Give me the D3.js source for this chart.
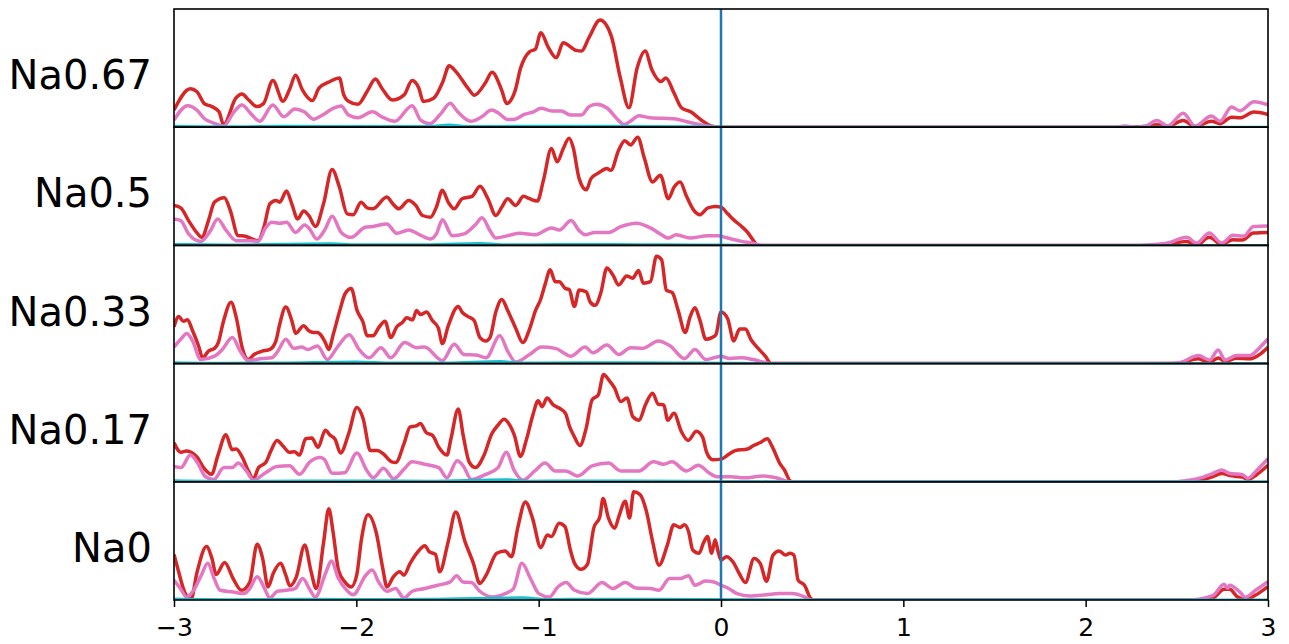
<!DOCTYPE html>
<html>
<head>
<meta charset="utf-8">
<script src="https://cdn.jsdelivr.net/npm/d3@7"></script>
<style>
html,body{margin:0;padding:0;background:#fff;}
svg{display:block;font-family:"DejaVu Sans",sans-serif;}
</style>
</head>
<body>
<svg id="chart" width="1289" height="644"></svg>
<script>
// ---------------- DATA ----------------
const panelLabels = ["Na0.67", "Na0.5", "Na0.33", "Na0.17", "Na0"];
const xTicks = [-3, -2, -1, 0, 1, 2, 3];
const xDomain = [-3, 3];
const yDomain = [0, 100];
const fermiLevel = 0;

// Energy (eV) vs DOS (arb.) — red series
const na067Red = [[-3.00,14.5],[-2.91,32.5],[-2.874,30],[-2.834,20],[-2.793,17.5],[-2.753,13],[-2.728,2],[-2.661,24.5],[-2.627,28],[-2.590,23],[-2.546,17.5],[-2.509,20],[-2.458,39.6],[-2.402,22],[-2.367,31.6],[-2.333,43.9],[-2.296,31.6],[-2.241,22.5],[-2.205,33],[-2.144,38.7],[-2.093,41.6],[-2.069,27.4],[-2.043,22],[-1.992,19.4],[-1.941,30.2],[-1.895,40.7],[-1.860,33],[-1.803,23],[-1.738,27.4],[-1.694,39.6],[-1.657,33],[-1.633,21.7],[-1.576,24.5],[-1.525,38.7],[-1.491,52],[-1.454,47],[-1.383,32],[-1.353,27],[-1.292,37.6],[-1.256,46.4],[-1.201,30.5],[-1.176,20],[-1.130,30.5],[-1.099,50],[-1.049,64],[-1.018,66],[-0.988,80],[-0.947,67.5],[-0.903,58.7],[-0.866,71.5],[-0.795,65],[-0.765,64.4],[-0.724,75.8],[-0.663,90.6],[-0.602,77.2],[-0.552,41.6],[-0.505,16.5],[-0.460,50],[-0.416,64.4],[-0.379,48.7],[-0.329,38.7],[-0.302,41.6],[-0.258,29],[-0.217,16.5],[-0.166,13],[-0.095,4.6],[-0.055,1.1],[0,0],[2.2,0],[2.33,0.5],[2.39,2],[2.45,0.5],[2.535,5.7],[2.6,0.5],[2.69,5],[2.737,3],[2.80,8.5],[2.846,8],[2.923,12.8],[3.0,10.8]];
const na05Red = [[-3,33.8],[-2.963,31.8],[-2.920,21],[-2.876,11],[-2.848,6.8],[-2.811,21],[-2.778,36.6],[-2.724,40.3],[-2.691,29.5],[-2.648,8.2],[-2.615,8],[-2.572,5.4],[-2.539,4],[-2.507,15.3],[-2.474,35.2],[-2.441,38],[-2.420,36.6],[-2.383,46],[-2.354,35.2],[-2.322,22.4],[-2.289,29],[-2.261,25.3],[-2.224,16],[-2.180,35.2],[-2.133,64.2],[-2.093,49.4],[-2.050,26.7],[-2.017,26],[-1.974,36.6],[-1.941,31.8],[-1.909,31],[-1.833,40.9],[-1.800,35.2],[-1.767,31],[-1.713,38],[-1.674,33.8],[-1.637,25.3],[-1.593,23.9],[-1.561,32.4],[-1.528,46.6],[-1.496,36.6],[-1.463,31],[-1.420,39.5],[-1.365,41.5],[-1.322,50],[-1.278,39.5],[-1.235,25.3],[-1.202,32.4],[-1.170,39.5],[-1.126,33.8],[-1.083,41.5],[-1.050,39.5],[-1.007,37.5],[-0.974,55],[-0.930,82],[-0.898,70.7],[-0.865,82],[-0.833,90.6],[-0.811,83],[-0.778,56.5],[-0.739,47],[-0.713,56.5],[-0.670,61.4],[-0.626,65],[-0.604,63.6],[-0.561,80.7],[-0.528,88.6],[-0.496,85],[-0.457,91.5],[-0.420,73.6],[-0.376,53.7],[-0.333,59.4],[-0.289,39.5],[-0.257,49.4],[-0.224,53.7],[-0.191,42.3],[-0.148,29.5],[-0.115,26],[-0.072,31.8],[-0.028,33],[0,32.4],[0.037,26.7],[0.070,21.6],[0.113,16],[0.146,11],[0.178,4],[0.20,0],[2.35,0],[2.45,1],[2.554,3.4],[2.61,0.5],[2.678,6.8],[2.746,1],[2.808,4.8],[2.86,4.5],[2.92,10.5],[3.0,11]];
const na033Red = [[-3,31.2],[-2.974,39.8],[-2.948,35.8],[-2.926,37],[-2.898,27.8],[-2.865,14.9],[-2.843,4.9],[-2.811,10.6],[-2.778,12.9],[-2.757,17.8],[-2.730,35],[-2.687,52],[-2.659,39.3],[-2.626,13.5],[-2.593,3.4],[-2.561,7.7],[-2.517,10.5],[-2.474,12],[-2.441,19.2],[-2.420,33.5],[-2.387,47.9],[-2.354,36.4],[-2.333,25.5],[-2.289,32],[-2.261,27.8],[-2.235,26.4],[-2.213,26.4],[-2.191,23.5],[-2.170,17.8],[-2.152,12],[-2.126,25],[-2.093,43.6],[-2.061,59.3],[-2.028,63.6],[-1.996,45],[-1.963,35],[-1.941,23.5],[-1.909,23.5],[-1.876,30.7],[-1.843,35.8],[-1.811,22],[-1.778,31.2],[-1.746,35],[-1.724,38.7],[-1.691,37],[-1.670,45],[-1.648,41.5],[-1.615,43.6],[-1.583,36.4],[-1.550,30],[-1.528,16.9],[-1.496,32],[-1.441,48.4],[-1.420,43.6],[-1.387,39.8],[-1.354,36.4],[-1.322,22],[-1.289,19.2],[-1.267,22],[-1.235,43.6],[-1.202,54.2],[-1.170,45],[-1.126,30],[-1.087,17.8],[-1.050,29.2],[-1.017,45],[-0.991,53.6],[-0.963,67.9],[-0.937,79.4],[-0.909,69.3],[-0.887,69.3],[-0.854,63.6],[-0.833,62.8],[-0.804,48.4],[-0.778,62.2],[-0.739,60.7],[-0.717,52],[-0.691,49.3],[-0.659,59.9],[-0.626,80.8],[-0.593,75],[-0.561,66.5],[-0.517,74.2],[-0.485,72.2],[-0.452,78.8],[-0.426,68],[-0.387,69.3],[-0.354,90.8],[-0.326,88],[-0.300,62.2],[-0.267,60],[-0.235,45],[-0.196,26.4],[-0.170,39.3],[-0.143,47.3],[-0.115,36.4],[-0.083,20.6],[-0.050,22],[-0.028,24.4],[0,43.6],[0.037,37.8],[0.070,19.2],[0.102,29.2],[0.135,29.2],[0.163,20.6],[0.2,13.5],[0.243,6.3],[0.276,0],[2.50,0],[2.618,4],[2.68,1],[2.727,4.8],[2.764,2],[2.828,4.5],[2.901,4],[2.947,7],[3.0,13.8]];
const na017Red = [[-3,33],[-2.962,25],[-2.933,26],[-2.906,25],[-2.872,20.6],[-2.838,12],[-2.794,6.3],[-2.760,22],[-2.715,39.8],[-2.681,27.2],[-2.659,27.8],[-2.625,20.6],[-2.592,9.2],[-2.565,2.6],[-2.536,12],[-2.497,16.3],[-2.468,26.4],[-2.435,35],[-2.401,30],[-2.367,25],[-2.340,25.5],[-2.311,22.6],[-2.278,36.4],[-2.244,37],[-2.210,29.2],[-2.170,43.6],[-2.143,39.3],[-2.116,35.8],[-2.087,24.4],[-2.042,40.7],[-1.997,62.8],[-1.963,53.6],[-1.923,26.4],[-1.885,26.4],[-1.851,23.5],[-1.806,16.9],[-1.784,16.3],[-1.739,32],[-1.705,46.4],[-1.672,47.3],[-1.649,49.3],[-1.616,41.5],[-1.582,39.3],[-1.548,29.2],[-1.503,22.6],[-1.481,36.4],[-1.441,61.6],[-1.414,39.3],[-1.380,16.3],[-1.346,12],[-1.301,22],[-1.257,40.7],[-1.223,47.9],[-1.190,53],[-1.156,47.3],[-1.133,39.3],[-1.100,21.5],[-1.066,36.4],[-1.032,56.4],[-1.003,68.5],[-0.981,63.6],[-0.954,70.8],[-0.920,65],[-0.886,62.2],[-0.853,57.9],[-0.830,46.4],[-0.808,39.3],[-0.774,30.7],[-0.740,45],[-0.707,69.3],[-0.673,73.6],[-0.644,90.8],[-0.617,86.5],[-0.584,79.4],[-0.550,67.9],[-0.516,70.8],[-0.483,55],[-0.449,52.1],[-0.415,65],[-0.375,75],[-0.344,65.6],[-0.314,65],[-0.292,52.1],[-0.258,57.9],[-0.218,42.7],[-0.180,35],[-0.135,42.7],[-0.101,37.8],[-0.079,25],[-0.045,18.6],[0,19.2],[0.045,23.5],[0.078,26.4],[0.146,27.8],[0.179,30.7],[0.213,33],[0.254,36.4],[0.280,30],[0.325,14.9],[0.348,10],[0.381,0.6],[0.40,0],[2.55,0],[2.645,2],[2.69,4],[2.746,7],[2.80,5],[2.86,4],[2.89,2],[2.938,6],[3.0,14]];
const na0Red = [[-3,38.6],[-2.977,25.3],[-2.942,6.8],[-2.907,0.6],[-2.873,23.9],[-2.822,45.2],[-2.792,35.2],[-2.769,21.6],[-2.722,31.8],[-2.676,18.2],[-2.630,8.2],[-2.584,15.3],[-2.544,47.2],[-2.514,35.2],[-2.484,11],[-2.456,22.4],[-2.415,31],[-2.387,21],[-2.364,12],[-2.329,19.6],[-2.283,46.6],[-2.248,23.9],[-2.220,9.7],[-2.179,49.4],[-2.151,77.3],[-2.128,58],[-2.098,25.3],[-2.063,15.3],[-2.028,11],[-1.998,21],[-1.971,52.3],[-1.936,72.2],[-1.890,56.5],[-1.855,26.7],[-1.832,11],[-1.797,19.6],[-1.762,23.9],[-1.739,21],[-1.705,31],[-1.665,40.3],[-1.624,46],[-1.601,40.9],[-1.566,38.6],[-1.543,23.9],[-1.496,49.4],[-1.455,74.4],[-1.404,49.4],[-1.358,31],[-1.323,14],[-1.288,21],[-1.230,39.5],[-1.184,41.5],[-1.149,36.6],[-1.115,60.8],[-1.073,83],[-1.034,69.3],[-0.988,44.3],[-0.953,55],[-0.930,53.7],[-0.888,65],[-0.856,62.2],[-0.826,42.3],[-0.803,31],[-0.768,26],[-0.733,30],[-0.698,60.8],[-0.664,70.7],[-0.647,85.8],[-0.617,69.3],[-0.583,60.8],[-0.560,70.7],[-0.525,83.5],[-0.502,69.3],[-0.479,91.5],[-0.444,89.2],[-0.409,75],[-0.375,49.4],[-0.340,29.5],[-0.294,46.6],[-0.259,63.6],[-0.224,61.4],[-0.201,63.6],[-0.178,58],[-0.155,42.3],[-0.120,39.5],[-0.097,48],[-0.074,53.7],[-0.051,39.5],[-0.032,50.9],[-0.016,41],[0,33.8],[0.030,36.6],[0.065,32.4],[0.100,22.4],[0.134,14.8],[0.181,35.2],[0.215,31],[0.250,15.9],[0.285,38],[0.319,41.5],[0.354,38],[0.377,39.5],[0.400,38],[0.423,16.8],[0.458,12.5],[0.493,1.1],[0.51,0],[2.60,0],[2.70,2],[2.759,9],[2.79,9],[2.83,3],[2.876,0.5],[2.93,4],[3.0,11.3]];

// pink series
const na067Pink = [[-3,6],[-2.925,18.2],[-2.874,14.5],[-2.834,7.4],[-2.773,3],[-2.728,1],[-2.671,13],[-2.627,18.8],[-2.580,11.7],[-2.529,5],[-2.458,18.8],[-2.398,8.8],[-2.337,15.4],[-2.286,13],[-2.235,6.8],[-2.185,10.3],[-2.134,15.4],[-2.083,18],[-2.043,10.3],[-1.992,8],[-1.911,13],[-1.860,8.8],[-1.789,5],[-1.694,18.2],[-1.647,6],[-1.596,3],[-1.535,11.7],[-1.485,20.2],[-1.444,13],[-1.373,5],[-1.312,8.8],[-1.258,14.5],[-1.221,12],[-1.170,6.6],[-1.130,6.8],[-1.079,10.8],[-1.028,13],[-0.988,16],[-0.927,13.7],[-0.876,13.7],[-0.826,10.3],[-0.765,10.3],[-0.724,17.4],[-0.684,19.4],[-0.623,16],[-0.572,7.4],[-0.531,2.3],[-0.501,4.6],[-0.450,9.7],[-0.400,8.3],[-0.318,7.5],[-0.247,7],[-0.197,5],[-0.136,2.8],[-0.075,1],[0,0],[2.15,0],[2.216,1],[2.28,0],[2.33,1],[2.39,5.7],[2.45,1],[2.535,11.7],[2.60,1],[2.69,9.4],[2.737,5],[2.80,17],[2.846,14],[2.923,21.6],[3.0,19]];
const na05Pink = [[-3,22.4],[-2.963,21],[-2.920,9.7],[-2.854,3.4],[-2.800,12.5],[-2.761,22.4],[-2.713,12.5],[-2.659,4],[-2.583,4],[-2.539,3.4],[-2.496,15.3],[-2.463,19.6],[-2.420,18.8],[-2.383,19.6],[-2.333,11],[-2.283,17.3],[-2.257,14],[-2.217,5.4],[-2.170,14],[-2.133,24.7],[-2.083,11],[-2.028,6.8],[-1.952,15.3],[-1.909,16],[-1.833,18.2],[-1.778,10.2],[-1.713,13],[-1.652,9],[-1.593,5.4],[-1.561,9.7],[-1.528,21.6],[-1.474,8.2],[-1.409,9.7],[-1.343,18.2],[-1.311,23.3],[-1.267,12.5],[-1.235,6.2],[-1.170,8.2],[-1.104,10.2],[-1.017,9],[-0.930,14.8],[-0.887,13],[-0.822,21],[-0.778,12.5],[-0.746,9],[-0.691,11],[-0.615,11],[-0.550,15.8],[-0.463,18.8],[-0.387,14.8],[-0.333,9.7],[-0.289,6.2],[-0.246,9],[-0.170,6.2],[-0.072,8.2],[-0.017,8.2],[0.037,6.2],[0.113,3.4],[0.178,1.7],[0.222,0],[2.30,0],[2.353,0.5],[2.45,2],[2.554,6.8],[2.608,2],[2.678,10.5],[2.746,2],[2.808,8.5],[2.868,8],[2.92,16],[3.0,16.5]];
const na033Pink = [[-3,14],[-2.963,20.6],[-2.930,25.5],[-2.898,19.2],[-2.854,3.4],[-2.778,6.3],[-2.735,12],[-2.680,22],[-2.637,10.6],[-2.593,2.6],[-2.517,4.3],[-2.463,5],[-2.430,10.6],[-2.387,20.6],[-2.343,12.9],[-2.300,14],[-2.267,12],[-2.213,14.9],[-2.159,3.4],[-2.104,14],[-2.039,24.4],[-1.985,12],[-1.930,4.9],[-1.865,13.5],[-1.811,4.9],[-1.735,17.8],[-1.670,13.5],[-1.626,14],[-1.528,2.6],[-1.463,16.3],[-1.409,7.7],[-1.343,7.2],[-1.289,4.9],[-1.213,23.5],[-1.170,10.6],[-1.126,1.4],[-1.050,7.7],[-0.985,14],[-0.909,12.9],[-0.822,6.3],[-0.746,14],[-0.702,9.2],[-0.626,15.8],[-0.561,7.7],[-0.496,13.5],[-0.430,12.9],[-0.343,19.2],[-0.278,14.9],[-0.200,4.3],[-0.143,12],[-0.083,3.4],[0,6.3],[0.048,4.3],[0.113,5],[0.178,3.4],[0.276,0],[2.44,0],[2.52,1],[2.618,6.8],[2.68,3],[2.727,11.6],[2.764,3],[2.828,6.8],[2.901,6.8],[2.947,12.4],[3.0,21]];
const na017Pink = [[-3,12.9],[-2.962,12],[-2.910,22.6],[-2.872,16.3],[-2.827,4.3],[-2.782,2],[-2.726,12],[-2.681,12],[-2.648,15.8],[-2.603,9.2],[-2.565,1.4],[-2.502,7.2],[-2.435,12.9],[-2.367,13.5],[-2.311,6.3],[-2.255,16.9],[-2.199,20.6],[-2.177,19.2],[-2.132,7.2],[-2.064,7.7],[-1.997,24.4],[-1.941,9.2],[-1.907,3.4],[-1.851,11.5],[-1.795,2.6],[-1.739,10.6],[-1.694,16.9],[-1.627,14.9],[-1.548,12],[-1.503,3.4],[-1.447,17.8],[-1.414,13.5],[-1.369,2],[-1.290,6.3],[-1.223,12],[-1.178,24.9],[-1.133,9.2],[-1.088,1.4],[-1.021,9.2],[-0.965,15.8],[-0.909,9.2],[-0.853,9.2],[-0.785,4.9],[-0.707,13.5],[-0.617,15.8],[-0.550,9.2],[-0.449,9.2],[-0.371,16.9],[-0.314,14.9],[-0.269,16.9],[-0.191,9.2],[-0.124,14],[-0.067,7.7],[-0.022,4.3],[0.056,4.3],[0.123,3.4],[0.235,4.9],[0.303,3.4],[0.381,0],[2.45,0],[2.55,1],[2.645,4],[2.69,6.5],[2.746,10],[2.79,7],[2.86,6],[2.89,3],[2.938,9.6],[3.0,19.5]];
const na0Pink = [[-3,16.8],[-2.965,9.7],[-2.931,2.6],[-2.896,7.4],[-2.850,21],[-2.815,31],[-2.780,18.2],[-2.746,8.2],[-2.676,6.8],[-2.618,5.4],[-2.584,9.7],[-2.544,19.6],[-2.503,9.7],[-2.475,1.7],[-2.433,7.4],[-2.387,8.2],[-2.336,9.7],[-2.294,18.2],[-2.253,8.2],[-2.225,2.6],[-2.167,23.3],[-2.137,33],[-2.098,18.2],[-2.052,8.2],[-2.017,4.5],[-1.948,21],[-1.913,25.3],[-1.878,15.3],[-1.832,7.4],[-1.785,9.7],[-1.739,1.7],[-1.693,7.4],[-1.624,9.7],[-1.554,12.5],[-1.485,15.3],[-1.450,20.5],[-1.416,15.3],[-1.369,14.8],[-1.323,7.4],[-1.253,2.6],[-1.184,5.4],[-1.138,9.7],[-1.092,31],[-1.045,18.2],[-0.999,5.4],[-0.941,2.6],[-0.895,11],[-0.849,14.8],[-0.803,8.2],[-0.733,5.4],[-0.652,14.8],[-0.594,9.7],[-0.525,14.8],[-0.467,10.2],[-0.386,9.7],[-0.340,8.2],[-0.282,18.2],[-0.224,18.2],[-0.178,20.5],[-0.143,12.5],[-0.085,16],[-0.039,15.3],[0,12.5],[0.042,9.7],[0.088,5.4],[0.157,3.4],[0.25,4.5],[0.319,5.4],[0.389,5.4],[0.458,2.6],[0.493,0],[2.56,0],[2.70,4],[2.759,13.3],[2.78,10],[2.79,12.4],[2.85,6],[2.876,2.3],[2.93,8],[3.0,15.5]];

// cyan series
const na067Cyan = [[-3,0.8],[-2.7,0.3],[-2.4,0.8],[-2.0,0.6],[-1.6,0.5],[-1.49,1.8],[-1.4,0.6],[-1.0,0.8],[-0.7,0.9],[-0.4,0.6],[-0.1,0.3],[0.1,0],[3,0]];
const na05Cyan = [[-3,0.8],[-2.7,0.4],[-2.14,1.4],[-2.0,0.5],[-1.6,0.6],[-1.32,1.6],[-1.2,0.6],[-0.9,0.7],[-0.6,0.8],[-0.3,0.5],[0,0.3],[0.2,0],[3,0]];
const na033Cyan = [[-3,0.8],[-2.7,0.3],[-2.4,0.6],[-2.0,1.4],[-1.8,0.5],[-1.5,0.6],[-1.21,1.8],[-1.1,0.5],[-0.8,0.8],[-0.5,0.7],[-0.2,0.5],[0,0.3],[0.28,0],[3,0]];
const na017Cyan = [[-3,0.8],[-2.7,0.3],[-2.3,0.6],[-2.0,0.7],[-1.6,0.5],[-1.18,1.8],[-1.05,0.5],[-0.8,0.7],[-0.5,0.7],[-0.2,0.5],[0.1,0.3],[0.38,0],[3,0]];
const na0Cyan = [[-3,0.8],[-2.7,0.3],[-2.3,0.6],[-2.0,0.5],[-1.6,0.6],[-1.09,1.8],[-0.95,0.5],[-0.7,0.7],[-0.4,0.6],[-0.1,0.5],[0.2,0.3],[0.5,0],[3,0]];

const redSeries = [na067Red, na05Red, na033Red, na017Red, na0Red];
const pinkSeries = [na067Pink, na05Pink, na033Pink, na017Pink, na0Pink];
const cyanSeries = [na067Cyan, na05Cyan, na033Cyan, na017Cyan, na0Cyan];

// ---------------- LAYOUT ----------------
const W = 1289, H = 644;
const plotLeft = 174, plotRight = 1268, plotTop = 9, plotBottom = 600;
const nPanels = panelLabels.length;
const panelH = (plotBottom - plotTop) / nPanels;

const svg = d3.select("#chart");
svg.append("rect").attr("width", W).attr("height", H).attr("fill", "#fff");

const x = d3.scaleLinear().domain(xDomain).range([plotLeft, plotRight]);

const colors = {red: "#d62728", pink: "#e377c2", cyan: "#17becf", blue: "#1f77b4"};

panelLabels.forEach((lab, i) => {
  const top = plotTop + i * panelH;
  const bot = top + panelH;
  const y = d3.scaleLinear().domain(yDomain).range([bot, top]);
  const g = svg.append("g");
  const clipId = "clip" + i;
  g.append("clipPath").attr("id", clipId)
    .append("rect").attr("x", plotLeft).attr("y", top).attr("width", plotRight - plotLeft).attr("height", panelH);
  const line = d3.line().x(d => x(d[0])).y(d => y(d[1])).curve(d3.curveMonotoneX);
  const lg = g.append("g").attr("clip-path", `url(#${clipId})`);
  lg.append("path").datum(redSeries[i]).attr("d", line)
    .attr("fill", "none").attr("stroke", colors.red).attr("stroke-width", 3.5).attr("stroke-linejoin", "round");
  lg.append("path").datum(pinkSeries[i]).attr("d", line)
    .attr("fill", "none").attr("stroke", colors.pink).attr("stroke-width", 3.5).attr("stroke-linejoin", "round");
  lg.append("path").datum(cyanSeries[i]).attr("d", line)
    .attr("fill", "none").attr("stroke", colors.cyan).attr("stroke-width", 3).attr("stroke-linejoin", "round");
  // Fermi level
  lg.append("line").attr("x1", x(fermiLevel)).attr("x2", x(fermiLevel))
    .attr("y1", top).attr("y2", bot).attr("stroke", colors.blue).attr("stroke-width", 2.5);
  // frame
  g.append("rect").attr("x", plotLeft).attr("y", top).attr("width", plotRight - plotLeft).attr("height", panelH)
    .attr("fill", "none").attr("stroke", "#000").attr("stroke-width", 1.6);
  // label
  g.append("text").attr("x", 152).attr("y", (top + bot) / 2 + 21)
    .attr("text-anchor", "end").attr("font-size", 40).attr("fill", "#000").text(lab);
});

// x axis
const xAxis = d3.axisBottom(x).tickValues(xTicks).tickFormat(d3.format("d"))
  .tickSize(7).tickSizeOuter(0).tickPadding(11);
const ax = svg.append("g").attr("transform", `translate(0,${plotBottom})`).call(xAxis);
ax.select(".domain").remove();
ax.selectAll(".tick line").attr("stroke", "#000").attr("stroke-width", 1.5);
ax.selectAll(".tick text").attr("font-size", 25).attr("font-family", "DejaVu Sans").attr("fill", "#000");
</script>
</body>
</html>
